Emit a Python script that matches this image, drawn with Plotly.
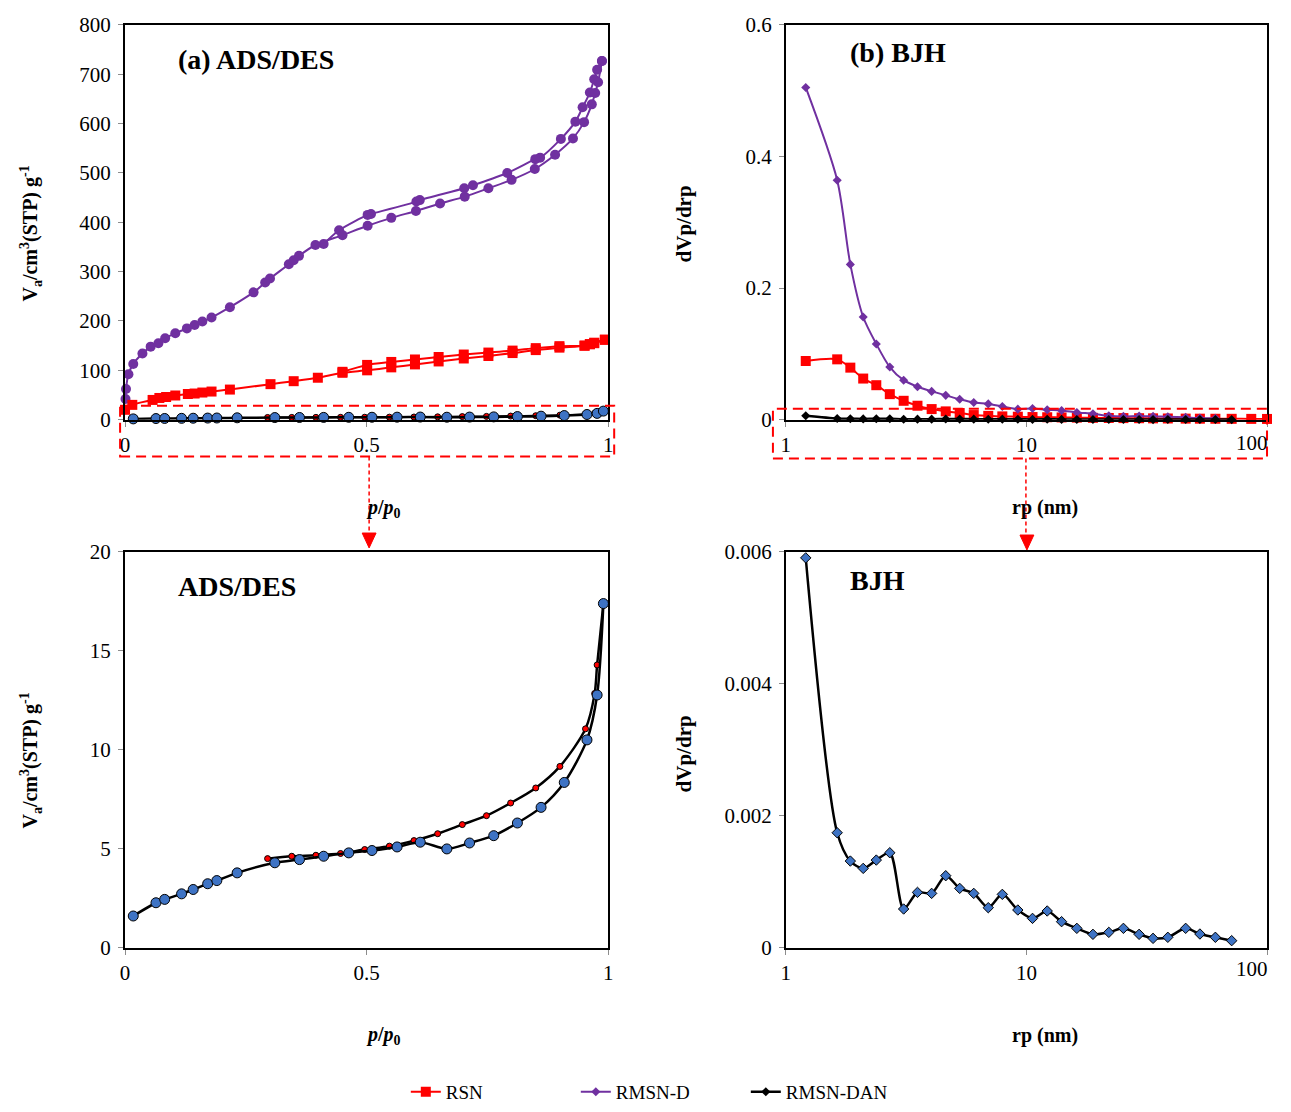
import plotly.graph_objects as go

W, H = 1275, 1112
SERIF = "Liberation Serif"

# ---------------- data: (a) ADS/DES ----------------
p_rmsnd_ads = [0.001, 0.002, 0.007, 0.017, 0.036, 0.053, 0.069, 0.083, 0.104, 0.128, 0.144, 0.160,
               0.179, 0.217, 0.266, 0.290, 0.300, 0.339, 0.349, 0.360, 0.394, 0.450, 0.502, 0.551,
               0.602, 0.652, 0.703, 0.752, 0.800, 0.848, 0.890, 0.927, 0.950, 0.966, 0.973, 0.979, 0.987]
v_rmsnd_ads = [42, 62, 92, 113, 134, 148, 155, 165, 175, 185, 192, 199,
               207, 228, 258, 278, 286, 315, 323, 332, 354, 374, 393, 409,
               423, 438, 452, 469, 486, 508, 537, 570, 603, 639, 662, 684, 727]
p_rmsnd_des = [0.987, 0.977, 0.971, 0.962, 0.947, 0.932, 0.902, 0.859, 0.849, 0.791, 0.720, 0.702,
               0.610, 0.603, 0.509, 0.502, 0.443, 0.411]
v_rmsnd_des = [727, 709, 690, 663, 633, 604, 569, 531, 528, 500, 475, 469,
               445, 442, 417, 415, 384, 356]

p_rsn_ads = [0.000, 0.015, 0.057, 0.071, 0.085, 0.104, 0.130, 0.144, 0.160, 0.179, 0.217, 0.301,
             0.349, 0.399, 0.450, 0.501, 0.551, 0.600, 0.649, 0.701, 0.752, 0.802, 0.850, 0.899,
             0.951, 0.962, 0.971, 0.993]
v_rsn_ads = [20, 30, 40, 44, 46, 49, 52, 53, 55, 57, 61, 72,
             78, 85, 95, 100, 106, 112, 118, 124, 129, 135, 141, 146,
             150, 153, 155, 162]
p_rsn_des = [0.993, 0.971, 0.962, 0.951, 0.899, 0.850, 0.802, 0.752, 0.701, 0.649, 0.600, 0.551,
             0.501, 0.450]
v_rsn_des = [162, 156, 153, 150, 149, 145, 140, 136, 132, 127, 122, 117, 111, 97]

p_dan_ads = [0.017, 0.064, 0.082, 0.117, 0.141, 0.171, 0.190, 0.232, 0.310, 0.361, 0.411, 0.463,
             0.511, 0.563, 0.611, 0.666, 0.713, 0.763, 0.812, 0.861, 0.909, 0.956, 0.977, 0.990]
v_dan_ads = [1.60, 2.27, 2.44, 2.72, 2.94, 3.23, 3.39, 3.78, 4.29, 4.45, 4.62, 4.79,
             4.91, 5.09, 5.33, 4.99, 5.29, 5.66, 6.30, 7.09, 8.35, 10.50, 12.77, 17.39]
p_dan_des = [0.990, 0.977, 0.972, 0.953, 0.900, 0.850, 0.798, 0.748, 0.698, 0.647, 0.598, 0.547,
             0.496, 0.446, 0.395, 0.345, 0.295]
v_dan_des = [17.39, 14.29, 12.85, 11.06, 9.16, 8.07, 7.31, 6.67, 6.22, 5.76, 5.41, 5.13,
             4.96, 4.76, 4.67, 4.62, 4.50]

# ---------------- data: (b) BJH ----------------
rp_rsn = [1.21, 1.635, 1.854, 2.097, 2.377, 2.705, 3.088, 3.525, 4.037, 4.62, 5.28, 6.04, 6.94, 7.94,
          9.21, 10.6, 12.2, 14.0, 16.2, 18.9, 22.0, 25.3, 29.4, 33.6, 38.7, 45.9, 52.6, 61.0, 71.3,
          86.0, 100.0]
d_rsn = [0.0892, 0.0917, 0.0791, 0.0625, 0.0524, 0.0388, 0.0287, 0.0212, 0.0161, 0.0126, 0.0101,
         0.0070, 0.0058, 0.0050, 0.0045, 0.0040, 0.0037, 0.0034, 0.0031, 0.0028, 0.0026, 0.0024,
         0.0022, 0.0020, 0.0018, 0.0016, 0.0015, 0.0014, 0.0013, 0.0012, 0.0011]

rp_rmsnd = [1.21, 1.635, 1.854, 2.097, 2.377, 2.705, 3.088, 3.525, 4.037, 4.62, 5.28, 6.04, 6.94, 7.94,
            9.21, 10.6, 12.2, 14.0, 16.2, 18.9, 22.0, 25.3, 29.4, 33.6, 38.7, 45.9, 52.6, 61.0]
d_rmsnd = [0.505, 0.364, 0.236, 0.156, 0.115, 0.080, 0.060, 0.050, 0.043, 0.037, 0.031, 0.026, 0.024,
           0.020, 0.016, 0.017, 0.015, 0.014, 0.011, 0.009, 0.006, 0.005, 0.0055, 0.005, 0.0045,
           0.0035, 0.0025, 0.002]

rp_dan = [1.21, 1.635, 1.854, 2.097, 2.377, 2.705, 3.088, 3.525, 4.037, 4.62, 5.28, 6.04, 6.94, 7.94,
          9.21, 10.6, 12.2, 14.0, 16.2, 18.9, 22.0, 25.3, 29.4, 33.6, 38.7, 45.9, 52.6, 61.0, 71.3]
d_dan = [0.00591, 0.001742, 0.001313, 0.001202, 0.001328, 0.001439, 0.000586, 0.000838, 0.000823,
         0.001091, 0.000899, 0.000823, 0.000606, 0.000808, 0.000571, 0.000444, 0.000556, 0.000394,
         0.000293, 0.000202, 0.000232, 0.000293, 0.000202, 0.000141, 0.000157, 0.000293, 0.000207,
         0.000157, 0.000106]

# tick labels
x_ticks_p = [0, 0.5, 1]
x_ticks_rp = [1, 10, 100]

RED = "#FF0000"
PURPLE = "#7030A0"
BLUE = "#3E73C4"

fig = go.Figure()


def add(x, y, ax, color, symbol, size, mcolor=None, mline=None, width=2, name=None, legend=False):
    fig.add_trace(go.Scatter(
        x=x, y=y, xaxis="x" + ax, yaxis="y" + ax, mode="lines+markers",
        line=dict(color=color, width=width, shape="spline", smoothing=0.8),
        marker=dict(symbol=symbol, size=size, color=mcolor or color,
                    line=dict(color=mline or (mcolor or color), width=1 if mline else 0)),
        name=name, showlegend=legend, cliponaxis=False))


add(p_rmsnd_des, v_rmsnd_des, "", PURPLE, "circle", 10)
add(p_rmsnd_ads, v_rmsnd_ads, "", PURPLE, "circle", 10)
add(p_rsn_des, v_rsn_des, "", RED, "square", 10)
add(p_rsn_ads, v_rsn_ads, "", RED, "square", 10)
add(p_dan_des, v_dan_des, "", "black", "circle", 6, mcolor=RED, mline="black")
add(p_dan_ads, v_dan_ads, "", "black", "circle", 10, mcolor=BLUE, mline="black", width=2.5)

add(rp_rsn, d_rsn, "2", RED, "square", 10, name="RSN", legend=True)
add(rp_rmsnd, d_rmsnd, "2", PURPLE, "diamond", 7, name="RMSN-D", legend=True)
add(rp_dan, d_dan, "2", "black", "diamond", 7, name="RMSN-DAN", legend=True, width=2.5)

add(p_dan_des, v_dan_des, "3", "black", "circle", 6, mcolor=RED, mline="black", width=2.5)
add(p_dan_ads, v_dan_ads, "3", "black", "circle", 10, mcolor=BLUE, mline="black", width=2.5)

add(rp_dan, d_dan, "4", "black", "diamond", 8, mcolor=BLUE, mline="black", width=2.5)


def X(px):
    return px / W


def Y(py):
    # page y (reference pixels) -> paper fraction, correcting the capture's vertical squeeze
    t = (py - 9) / 0.984
    return 1 - t / H


axis_common = dict(showline=True, linecolor="black", linewidth=2, mirror=True,
                   ticks="outside", tickcolor="#8c8c8c", ticklen=5, tickwidth=1,
                   showgrid=False, zeroline=False,
                   tickfont=dict(family=SERIF, size=21, color="black"))

dom_xl = [X(121), X(608)]
dom_xr = [X(787), X(1272)]
dom_yt = [Y(419), Y(22)]
dom_yb = [Y(950), Y(552)]

fig.update_layout(
    width=W, height=H, margin=dict(l=0, r=0, t=0, b=0),
    paper_bgcolor="white", plot_bgcolor="white",
    font=dict(family=SERIF, color="black"),
    xaxis=dict(domain=dom_xl, range=[0, 1], tickvals=x_ticks_p, ticktext=["0", "0.5", "1"],
               anchor="y", **axis_common),
    yaxis=dict(domain=dom_yt, range=[0, 800], dtick=100, anchor="x", ticklabelstandoff=3,
               **axis_common),
    xaxis2=dict(domain=dom_xr, type="log", range=[0, 2], tickvals=x_ticks_rp,
                ticktext=["1", "10", ""], anchor="y2", **axis_common),
    yaxis2=dict(domain=dom_yt, range=[0, 0.6], tickvals=[0, 0.2, 0.4, 0.6],
                ticktext=["0", "0.2", "0.4", "0.6"], anchor="x2", ticklabelstandoff=3, **axis_common),
    xaxis3=dict(domain=dom_xl, range=[0, 1], tickvals=x_ticks_p, ticktext=["0", "0.5", "1"],
                anchor="y3", **axis_common),
    yaxis3=dict(domain=dom_yb, range=[0, 20], dtick=5, anchor="x3", ticklabelstandoff=3,
                **axis_common),
    xaxis4=dict(domain=dom_xr, type="log", range=[0, 2], tickvals=x_ticks_rp,
                ticktext=["1", "10", ""], anchor="y4", **axis_common),
    yaxis4=dict(domain=dom_yb, range=[0, 0.006], tickvals=[0, 0.002, 0.004, 0.006],
                ticktext=["0", "0.002", "0.004", "0.006"], anchor="x4", ticklabelstandoff=3,
                **axis_common),
    legend=dict(orientation="h", x=X(661), xanchor="center", y=Y(1095), yanchor="middle",
                font=dict(family=SERIF, size=19, color="black"),
                entrywidth=125, entrywidthmode="pixels",
                bgcolor="rgba(0,0,0,0)"),
)


def txt(s, x, y, size, angle=0, xanchor="center"):
    fig.add_annotation(text=s, x=X(x), y=Y(y), xref="paper", yref="paper", showarrow=False,
                       textangle=angle, xanchor=xanchor, yanchor="middle",
                       font=dict(family=SERIF, size=size, color="black"))


# "100" tick labels kept fully inside the page
txt("100", W, 442, 21, xanchor="right")
txt("100", W, 971, 21, xanchor="right")

txt("<b>(a) ADS/DES</b>", 253, 57, 28)
txt("<b>(b) BJH</b>", 900, 50, 28)
txt("<b>ADS/DES</b>", 234, 587, 28)
txt("<b>BJH</b>", 879, 581, 28)

ytitle_a = "<b>V<sub>a</sub>/cm<sup>3</sup>(STP) g<sup>-1</sup></b>"
ytitle_b = "<b>dVp/drp</b>"
xtitle_a = "<b><i>p</i>/<i>p</i><sub>0</sub></b>"
xtitle_b = "<b>rp (nm)</b>"
txt(ytitle_a, 26, 232, 20, -90)
txt(ytitle_a, 26, 762, 20, -90)
txt(ytitle_b, 684, 222, 21, -90)
txt(ytitle_b, 684, 755, 21, -90)
txt(xtitle_a, 381, 508, 20)
txt(xtitle_a, 381, 1038, 20)
txt(xtitle_b, 1048, 507, 20)
txt(xtitle_b, 1048, 1038, 20)


def rect(x0, y0, x1, y1):
    fig.add_shape(type="rect", xref="paper", yref="paper", x0=X(x0), x1=X(x1), y0=Y(y1), y1=Y(y0),
                  line=dict(color=RED, width=2, dash="10px,6px"), fillcolor="rgba(0,0,0,0)")


def vline(x, y0, y1):
    fig.add_shape(type="line", xref="paper", yref="paper", x0=X(x), x1=X(x), y0=Y(y0), y1=Y(y1),
                  line=dict(color=RED, width=1.5, dash="4px,3px"))


def arrow(x, ytop, ytip, half):
    path = f"M {X(x - half)} {Y(ytop)} L {X(x + half)} {Y(ytop)} L {X(x)} {Y(ytip)} Z"
    fig.add_shape(type="path", xref="paper", yref="paper", path=path,
                  fillcolor=RED, line=dict(color=RED, width=1))


rect(116, 405, 614, 456)
rect(774, 408, 1272, 458)
vline(367, 456, 534)
vline(1029, 458, 536)
arrow(367, 533, 548, 7)
arrow(1030, 535, 550, 7)

fig.write_html("out.html", config={"displayModeBar": False})
